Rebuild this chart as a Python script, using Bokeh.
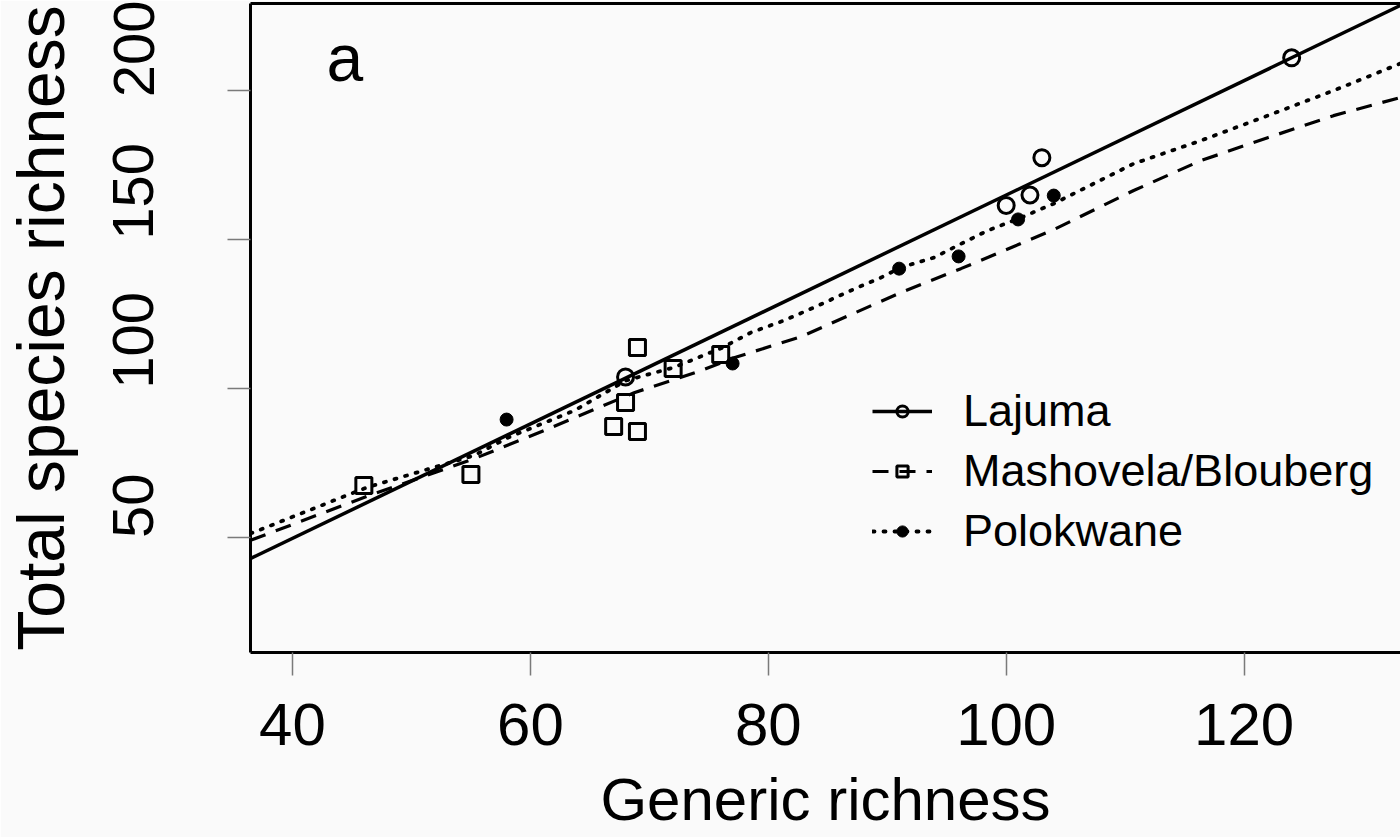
import math
from bokeh.plotting import figure
from bokeh.models import (Range1d, LinearAxis, FixedTicker, Legend, LegendItem, Label)
from bokeh.embed import file_html
from bokeh.resources import INLINE

# ---------------- data ----------------
x_ticks = [40, 60, 80, 100, 120]
y_ticks = [50, 100, 150, 200]
y_tick_labels = ["50", "100", "150", "200"]

lajuma_x = [68, 100, 102, 103, 124]
lajuma_y = [104.0, 161.5, 165.0, 177.5, 211.0]

mash_x = [46, 55, 67, 68, 69, 69, 72, 76]
mash_y = [67.6, 71.3, 87.4, 95.4, 85.7, 113.9, 106.8, 111.5]

polo_x = [58, 77, 91, 96, 101, 104]
polo_y = [89.7, 108.5, 140.3, 144.4, 156.8, 164.8]

# fitted lines (traced)
lajuma_fit_x = [36.0, 134.0]
lajuma_fit_y = [42.2, 230.2]

mash_fit_x = [36.47, 46.22, 55.29, 61.75, 68.72, 74.35, 77.12, 82.75, 91.15, 96.19,
              101.23, 104.0, 110.72, 116.35, 121.98, 127.52, 133.15]
mash_fit_y = [49.2, 63.9, 76.6, 87.0, 98.7, 106.1, 110.4, 117.5, 132.3, 140.3,
              148.7, 153.4, 166.5, 176.5, 184.2, 191.6, 197.7]

polo_fit_x = [36.47, 46.22, 55.29, 58.14, 63.69, 68.05, 72.08, 74.10, 76.03, 78.55,
              81.32, 84.18, 86.95, 89.47, 91.15, 93.92, 95.94, 98.46, 101.23, 104.0,
              110.72, 116.35, 121.98, 127.52, 133.15]
polo_fit_y = [51.5, 66.9, 77.7, 83.7, 92.7, 102.8, 107.2, 110.5, 113.6, 118.9,
              122.9, 127.9, 133.0, 137.3, 140.7, 144.0, 148.1, 153.1, 157.4, 162.1,
              175.5, 183.2, 191.6, 200.0, 209.1]

series_names = ["Lajuma", "Mashovela/Blouberg", "Polokwane"]
panel_letter = "a"
panel_letter_x = 44.4
panel_letter_y = 210.8
x_title = "Generic richness"
y_title = "Total species richness"

x_lo, x_hi = 36.47, 133.15
y_lo, y_hi = 11.6, 229.2

# ---------------- styling / layout ----------------
BG = "#fafafa"
FONT = "Liberation Sans"
TICK_GRAY = "#7a7a7a"
W, H = 1400, 837
BORDER_L, BORDER_T, BORDER_B = 249, 3, 185
YLAB_PX = 58

p = figure(width=W, height=H, output_backend="svg", toolbar_location=None,
           x_range=Range1d(x_lo, x_hi), y_range=Range1d(y_lo, y_hi),
           min_border_left=BORDER_L, min_border_right=0, min_border_top=BORDER_T,
           min_border_bottom=BORDER_B,
           background_fill_color=BG, border_fill_color=BG,
           outline_line_color=None)
p.grid.visible = False

# bottom axis
xa = p.xaxis[0]
xa.ticker = FixedTicker(ticks=x_ticks)
xa.axis_line_color = "black"
xa.axis_line_width = 3
xa.major_tick_in = 0
xa.major_tick_out = 23
xa.major_tick_line_color = TICK_GRAY
xa.major_tick_line_width = 1.5
xa.minor_tick_line_color = None
xa.major_label_text_font = FONT
xa.major_label_text_font_size = "60px"
xa.major_label_text_color = "black"
xa.major_label_standoff = 28
xa.axis_label = x_title
xa.axis_label_text_font = FONT
xa.axis_label_text_font_size = "60px"
xa.axis_label_text_font_style = "normal"
xa.axis_label_text_color = "black"
xa.axis_label_standoff = 18

# left axis: the tick marks are unlabeled ticks at the y values; the rotated
# labels (which in the reference start at their tick and run upward) are put
# on label-only ticks shifted by half of each label's length.
frame_h = H - BORDER_T - BORDER_B
px_per_unit = frame_h / (y_hi - y_lo)
label_pos = [round(v + len(t) * 0.556 * YLAB_PX / 2 / px_per_unit, 3)
             for v, t in zip(y_ticks, y_tick_labels)]

ya = p.yaxis[0]
ya.ticker = FixedTicker(ticks=label_pos, minor_ticks=y_ticks)
ya.major_label_overrides = {pos: t for pos, t in zip(label_pos, y_tick_labels)}
ya.major_label_orientation = "parallel"
ya.axis_line_color = "black"
ya.axis_line_width = 3
ya.major_tick_line_color = None
ya.major_tick_in = 0
ya.major_tick_out = 23
ya.minor_tick_in = 0
ya.minor_tick_out = 23
ya.minor_tick_line_color = TICK_GRAY
ya.minor_tick_line_width = 1.5
ya.major_label_text_font = FONT
ya.major_label_text_font_size = f"{YLAB_PX}px"
ya.major_label_text_color = "black"
ya.major_label_standoff = 74
ya.axis_label = y_title
ya.axis_label_text_font = FONT
ya.axis_label_text_font_size = "66px"
ya.axis_label_text_font_style = "normal"
ya.axis_label_text_color = "black"
ya.axis_label_standoff = 33

# top border line
top = LinearAxis(ticker=FixedTicker(ticks=[]), axis_line_color="black", axis_line_width=3,
                 major_tick_line_color=None, minor_tick_line_color=None)
p.add_layout(top, "above")

# lines
r_l_line = p.line(lajuma_fit_x, lajuma_fit_y, line_color="black", line_width=3.5)
r_m_line = p.line(mash_fit_x, mash_fit_y, line_color="black", line_width=3.2,
                  line_dash="16 11")
r_p_line = p.line(polo_fit_x, polo_fit_y, line_color="black", line_width=3.8,
                  line_dash="2 9", line_cap="round")

# points
r_l_pts = p.scatter(lajuma_x, lajuma_y, marker="circle", size=16, fill_color=None,
                    line_color="black", line_width=3)
r_m_pts = p.scatter(mash_x, mash_y, marker="square", size=16, fill_color=None,
                    line_color="black", line_width=3)
r_p_pts = p.scatter(polo_x, polo_y, marker="circle", size=13, fill_color="black",
                    line_color="black", line_width=1)

legend = Legend(items=[LegendItem(label=series_names[0], renderers=[r_l_line, r_l_pts]),
                       LegendItem(label=series_names[1], renderers=[r_m_line, r_m_pts]),
                       LegendItem(label=series_names[2], renderers=[r_p_line, r_p_pts])],
                location=(622, 91), orientation="vertical",
                border_line_color=None, background_fill_alpha=0,
                label_text_font=FONT, label_text_font_size="45px",
                label_text_color="black",
                glyph_width=60, glyph_height=28, label_height=60,
                label_standoff=31, spacing=0, padding=0, margin=0)
p.add_layout(legend)

p.add_layout(Label(x=panel_letter_x, y=panel_letter_y, text=panel_letter,
                   text_align="center", text_baseline="alphabetic", text_font=FONT,
                   text_font_size="66px", text_color="black"))

open("out.html", "w").write(file_html(p, INLINE))
